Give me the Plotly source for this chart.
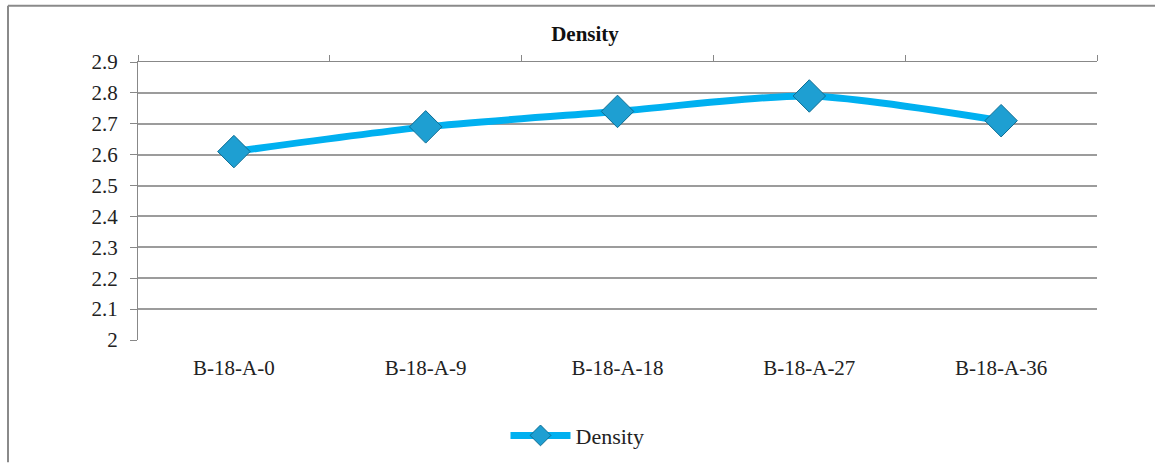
import plotly.graph_objects as go

# Sample density measurements
samples = ["B-18-A-0", "B-18-A-9", "B-18-A-18", "B-18-A-27", "B-18-A-36"]
density = [2.61, 2.69, 2.74, 2.79, 2.71]

y_ticks = [2.0, 2.1, 2.2, 2.3, 2.4, 2.5, 2.6, 2.7, 2.8, 2.9]
boundaries = [-0.5, 0.5, 1.5, 2.5, 3.5, 4.5]

W, H = 1155, 468
ML, MR, MT, MB = 138, 58, 62, 124
PW, PH = W - ML - MR, H - MT - MB


def px_to_paper_x(px):
    return (px - ML) / PW


def px_to_paper_y(py):
    return (H - MB - py) / PH


SERIF = "Liberation Serif, Times New Roman, serif"
GRID = "#9c9c9c"

fig = go.Figure()

fig.add_trace(go.Scatter(
    x=samples,
    y=density,
    name="Density",
    mode="lines+markers",
    line=dict(color="#00b0f0", width=7, shape="spline", smoothing=0.7),
    marker=dict(symbol="diamond", size=25, color="#1e9fd2",
                line=dict(color="#0d6d93", width=1)),
))

# invisible trace carrying the top category axis with its boundary ticks
fig.add_trace(go.Scatter(x=[0], y=[2.0], xaxis="x2", mode="markers",
                         marker=dict(opacity=0), showlegend=False,
                         hoverinfo="skip"))

fig.update_layout(
    width=W, height=H,
    margin=dict(l=ML, r=MR, t=MT, b=MB),
    paper_bgcolor="white",
    plot_bgcolor="white",
    font=dict(family=SERIF, color="#222222"),
    title=dict(text="<b>Density</b>", x=px_to_paper_x(585), xref="paper",
               xanchor="center", y=1 - 34 / H, yanchor="middle",
               font=dict(family=SERIF, size=21, color="#111111")),
    showlegend=True,
    legend=dict(orientation="h", x=0.5 - (ML - MR) / 2 / PW, xanchor="center",
                y=px_to_paper_y(441), yanchor="middle",
                font=dict(family=SERIF, size=22, color="#222222"),
                itemwidth=60, bgcolor="rgba(0,0,0,0)"),
    xaxis=dict(
        type="category",
        range=[-0.5, 4.5],
        showline=False,
        showgrid=False,
        zeroline=False,
        ticks="",
        ticklabelstandoff=13,
        tickfont=dict(family=SERIF, size=21, color="#222222"),
    ),
    xaxis2=dict(
        overlaying="x",
        side="top",
        range=[-0.5, 4.5],
        tickmode="array",
        tickvals=boundaries,
        showticklabels=False,
        ticks="outside",
        ticklen=6,
        tickcolor="#888888",
        showline=True,
        linecolor="#888888",
        linewidth=1,
        showgrid=False,
        zeroline=False,
    ),
    yaxis=dict(
        range=[2.0, 2.9],
        tickmode="array",
        tickvals=y_ticks,
        ticktext=[f"{v:g}" for v in y_ticks],
        showgrid=True,
        gridcolor=GRID,
        gridwidth=1.5,
        showline=True,
        linecolor="#888888",
        linewidth=1,
        ticks="outside",
        ticklen=7,
        tickcolor="#888888",
        zeroline=False,
        ticklabelstandoff=8,
        tickfont=dict(family=SERIF, size=21, color="#222222"),
    ),
)

# frame around the chart area (top and left edges)
fig.add_shape(type="line", xref="paper", yref="paper",
              x0=px_to_paper_x(8), x1=px_to_paper_x(W), y0=px_to_paper_y(5),
              y1=px_to_paper_y(5), line=dict(color="#8a8a8a", width=2))
fig.add_shape(type="line", xref="paper", yref="paper",
              x0=px_to_paper_x(8), x1=px_to_paper_x(8), y0=px_to_paper_y(5),
              y1=px_to_paper_y(H), line=dict(color="#8a8a8a", width=2))

fig.write_html("out.html")
